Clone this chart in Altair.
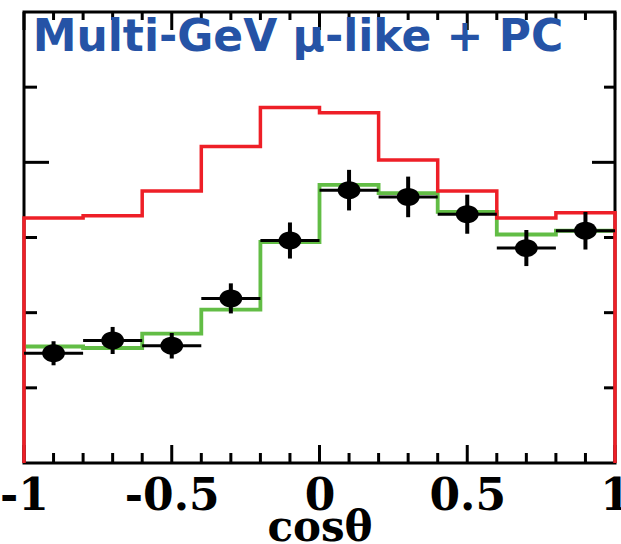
import altair as alt
import pandas as pd

# cos(zenith) binning and per-bin event counts
bin_edges = [-1.0, -0.8, -0.6, -0.4, -0.2, 0.0, 0.2, 0.4, 0.6, 0.8, 1.0]
no_osc_counts = [326, 329, 362, 421, 473, 466, 403, 362, 326, 333]
best_fit_counts = [155, 153, 172, 204, 294, 370, 359, 334, 304, 309]
data_counts = [146, 163, 156, 219, 296, 363, 354, 331, 286, 309]
data_errors = [16, 18, 17, 20, 24, 27, 27, 26, 24, 25]

# axis ticks
x_label_values = [-1, -0.5, 0, 0.5, 1]
x_major_ticks = [-1, -0.5, 0, 0.5, 1]
x_minor_ticks = [-0.9, -0.8, -0.7, -0.6, -0.4, -0.3, -0.2, -0.1,
                 0.1, 0.2, 0.3, 0.4, 0.6, 0.7, 0.8, 0.9]
y_major_ticks = [400]
y_minor_ticks = [100, 200, 300, 500]

panel_title = "Multi-GeV \u03bc-like + PC"
x_title = "cos\u03b8"

W, H = 591, 451
RED = "#ee1f27"
GREEN = "#62bd45"
BLUE = "#2553a6"


def step_frame(counts, close):
    pts = []
    if close:
        pts.append((bin_edges[0], 0))
    for i, c in enumerate(counts):
        pts.append((bin_edges[i], c))
    pts.append((bin_edges[-1], counts[-1]))
    if close:
        pts.append((bin_edges[-1], 0))
    return pd.DataFrame({"i": range(len(pts)),
                         "x": [p[0] for p in pts],
                         "y": [p[1] for p in pts]})


centers = [(a + b) / 2 for a, b in zip(bin_edges[:-1], bin_edges[1:])]
points = pd.DataFrame({
    "x": centers,
    "xlo": bin_edges[:-1],
    "xhi": bin_edges[1:],
    "y": data_counts,
    "lo": [c - e for c, e in zip(data_counts, data_errors)],
    "hi": [c + e for c, e in zip(data_counts, data_errors)],
})

xscale = alt.Scale(domain=[-1, 1], nice=False, zero=False)
yscale = alt.Scale(domain=[0, 600], nice=False, zero=True)
xaxis = alt.Axis(
    values=x_label_values, ticks=False, domain=False, grid=False,
    labelFont="DejaVu Serif", labelFontWeight="bold", labelFontSize=44,
    labelColor="black", labelBaseline="alphabetic", labelPadding=46,
    labelFlush=False, labelOverlap=False, labelBound=False,
    labelExpr="(datum.value < 0 ? '-' : '') + toString(abs(datum.value))",
    title=x_title, titleFont="DejaVu Serif", titleFontWeight="bold",
    titleFontSize=42, titleColor="black", titleBaseline="alphabetic", titleY=77,
)


def X(field):
    return alt.X(f"{field}:Q", scale=xscale, axis=xaxis)


def Y(field):
    return alt.Y(f"{field}:Q", scale=yscale, axis=None)


green_line = alt.Chart(step_frame(best_fit_counts, False)).mark_line(
    interpolate="step-after", color=GREEN, strokeWidth=3.8
).encode(x=X("x"), y=Y("y"), order=alt.Order("i:Q"))

red_line = alt.Chart(step_frame(no_osc_counts, True)).mark_line(
    interpolate="step-after", color=RED, strokeWidth=3.5
).encode(x=X("x"), y=Y("y"), order=alt.Order("i:Q"))

vbars = alt.Chart(points).mark_rule(color="black", strokeWidth=4).encode(
    x=X("x"), y=Y("lo"), y2="hi")
hbars = alt.Chart(points).mark_rule(color="black", strokeWidth=3).encode(
    x=X("xlo"), x2="xhi", y=Y("y"))
ellipse = "M -1 0 A 1 0.78 0 1 0 1 0 A 1 0.78 0 1 0 -1 0 Z"
dots = alt.Chart(points).mark_point(
    shape=ellipse, filled=True, color="black", opacity=1, size=520
).encode(x=X("x"), y=Y("y"))

xmaj = pd.DataFrame({"t": x_major_ticks})
xmin = pd.DataFrame({"t": x_minor_ticks})
ymaj = pd.DataFrame({"t": y_major_ticks})
ymin = pd.DataFrame({"t": y_minor_ticks})


def xticks(df, y0, y1):
    return alt.Chart(df).mark_rule(color="black", strokeWidth=3).encode(
        x=X("t"), y=alt.value(y0), y2=alt.value(y1))


def yticks(df, x0, x1):
    return alt.Chart(df).mark_rule(color="black", strokeWidth=3).encode(
        y=Y("t"), x=alt.value(x0), x2=alt.value(x1))


ticks = [
    xticks(xmaj, H, H - 18), xticks(xmin, H, H - 10),
    xticks(xmaj, 0, 18), xticks(xmin, 0, 8),
    yticks(ymaj, 0, 25), yticks(ymin, 0, 13),
    yticks(ymaj, W, W - 23), yticks(ymin, W, W - 11),
]

title = alt.Chart(pd.DataFrame({"label": [panel_title]})).mark_text(
    font="DejaVu Sans", fontWeight="bold", fontSize=44, color=BLUE,
    align="center", baseline="alphabetic"
).encode(text="label:N", x=alt.value(274), y=alt.value(39))

chart = alt.layer(
    *ticks, green_line, red_line, hbars, vbars, dots, title
).properties(
    width=W, height=H,
    padding={"left": 24, "top": 12, "right": 6, "bottom": 81},
    autosize=alt.AutoSizeParams(type="none"),
).configure(background="white").configure_view(stroke="black", strokeWidth=3)

chart.save("out.html", embed_options={"renderer": "svg", "actions": False})
